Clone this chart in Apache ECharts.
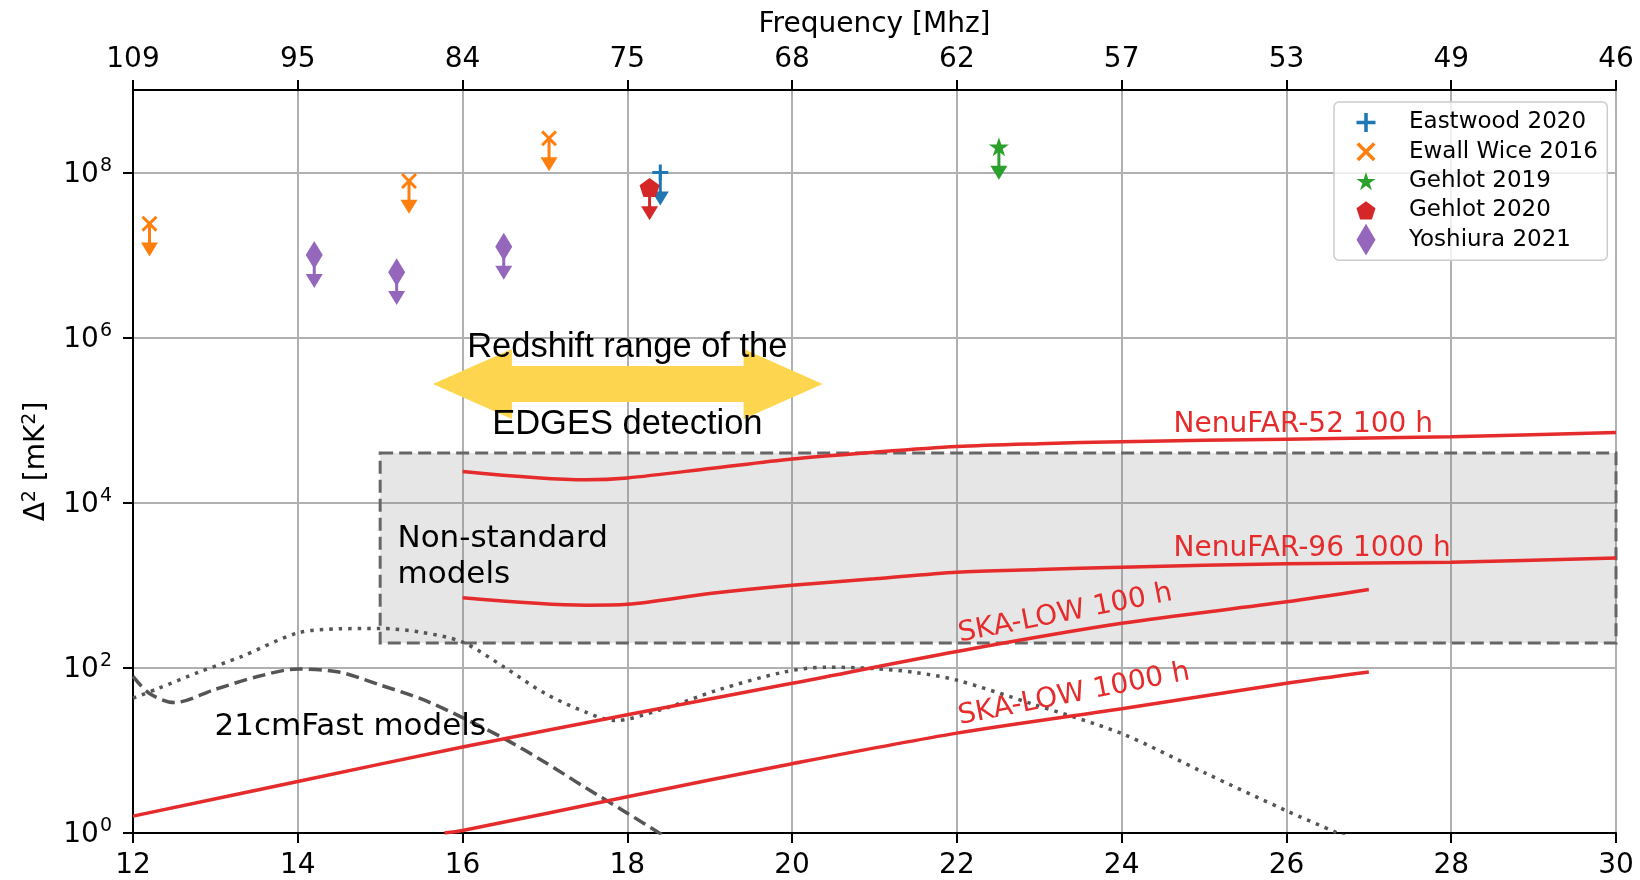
<!DOCTYPE html>
<html>
<head>
<meta charset="utf-8">
<script src="https://cdn.jsdelivr.net/npm/echarts@6/dist/echarts.min.js"></script>
<style>
  html, body { margin: 0; padding: 0; background: #ffffff; }
  #chart { width: 1640px; height: 880px; }
</style>
</head>
<body>
<div id="chart"></div>
<script>
// ---- Axis ticks -------------------------------------------------------
// Redshift ticks and the matching 21-cm observing frequency, 1420/(1+z) MHz
const redshiftTicks = [12, 14, 16, 18, 20, 22, 24, 26, 28, 30];
const freqLabels = ['109', '95', '84', '75', '68', '62', '57', '53', '49', '46'];
const powerTicks = [1, 1e2, 1e4, 1e6, 1e8];

// ---- Published upper limits on Δ² [mK²]: [z, value] --------------------
const eastwood2020 = [[18.40, 1.0e8]];
const ewallWice2016 = [[12.20, 2.4e7], [15.35, 7.9e7], [17.05, 2.6e8]];
const gehlot2019 = [[22.51, 2.05e8]];
const gehlot2020 = [[18.27, 6.6e7]];
const yoshiura2021 = [[14.20, 1.0e7], [15.20, 6.2e6], [16.50, 1.26e7]];

// ---- Instrument sensitivities: [z, Δ²] ----------------------------------
const nenufar52_100h = [[16, 2.4e4], [17.5, 1.9e4], [18, 2.0e4], [19, 2.6e4], [20, 3.4e4], [21, 4.1e4],
  [22, 4.8e4], [23, 5.2e4], [24, 5.5e4], [26, 5.9e4], [28, 6.3e4], [30, 7.1e4]];
const nenufar96_1000h = [[16, 708], [17.5, 575], [18, 589], [19, 794], [20, 1000], [21, 1200],
  [22, 1445], [23, 1550], [24, 1660], [26, 1820], [28, 1905], [30, 2140]];
const skaLow100h = [[12, 1.6], [14, 4.2], [16, 11], [18, 27], [20, 65], [22, 158], [24, 347], [26, 631], [27, 891]];
const skaLow1000h = [[15.78, 1.0], [16, 1.07], [18, 2.75], [20, 6.9], [22, 16.2], [24, 32], [26, 65], [27, 89]];

// ---- 21cmFast model power spectra: [z, Δ²] ------------------------------
const fastModelDashed = [[12.0, 79], [12.2, 49], [12.5, 38], [13.0, 55], [13.5, 78], [14.0, 97], [14.5, 89],
  [15.0, 62], [15.5, 42], [16.0, 25], [16.5, 14], [17.0, 7.2], [17.5, 3.5], [18.0, 1.74], [18.5, 0.85]];
const fastModelDotted = [[12.0, 43], [12.3, 56], [12.8, 89], [13.3, 135], [14.0, 265], [14.5, 297], [15.0, 300],
  [15.5, 270], [16.0, 205], [16.5, 103], [17.0, 49], [17.5, 29], [17.85, 23], [18.4, 31], [19.1, 54],
  [19.9, 89], [20.4, 102], [21.0, 98], [21.5, 88], [22.0, 71], [22.9, 37], [24.0, 16], [25.0, 5.4],
  [26.0, 1.86], [26.6, 1.02], [27.0, 0.68]];

// ---- Regions ------------------------------------------------------------
const nonStandardZ = [15, 30];
const nonStandardPower = [200, 4e4];
const edgesZ = [15.64, 20.37];
const edgesLevel = 2.75e5;

// Each upper limit arrow reaches down to this fraction of the limit
const LIMIT_DROP = 0.4;

// ---- Styling ------------------------------------------------------------
const FONT = "'DejaVu Sans', sans-serif";
const RED = '#e52b2b';
const GREY_LINE = '#555555';

const PLUS = 'path://M6.5,0H9.5V6.5H16V9.5H9.5V16H6.5V9.5H0V6.5H6.5Z';
const CROSS = 'path://M0,2.1L2.1,0L8,5.9L13.9,0L16,2.1L10.1,8L16,13.9L13.9,16L8,10.1L2.1,16L0,13.9L5.9,8Z';
const STAR = 'path://M0,-1L0.2245,-0.309L0.951,-0.309L0.3633,0.118L0.5878,0.809L0,0.382L-0.5878,0.809L-0.3633,0.118L-0.951,-0.309L-0.2245,-0.309Z';
const PENTAGON = 'path://M0,-1L0.951,-0.309L0.588,0.809L-0.588,0.809L-0.951,-0.309Z';
const THIN_DIAMOND = 'path://M0,-1L0.6,0L0,1L-0.6,0Z';

// Scatter marker for each limit set, plus its downward arrow
function limitSeries(name, data, color, symbol, size) {
  return [
    {
      name: name,
      type: 'scatter',
      data: data,
      symbol: symbol,
      symbolSize: size,
      itemStyle: { color: color, opacity: 1 },
      emphasis: { disabled: true },
      z: 6
    },
    {
      name: name + ' (limit)',
      type: 'custom',
      data: data,
      silent: true,
      z: 5,
      encode: { x: 0, y: 1 },
      renderItem: function (params, api) {
        const z = api.value(0);
        const v = api.value(1);
        const top = api.coord([z, v]);
        const tip = api.coord([z, v * LIMIT_DROP]);
        const hw = 8.5, hh = 14;
        return {
          type: 'group',
          children: [
            {
              type: 'line',
              shape: { x1: top[0], y1: top[1], x2: tip[0], y2: tip[1] - hh + 1 },
              style: { stroke: color, lineWidth: 3 }
            },
            {
              type: 'polygon',
              shape: { points: [[tip[0] - hw, tip[1] - hh], [tip[0] + hw, tip[1] - hh], [tip[0], tip[1]]] },
              style: { fill: color }
            }
          ]
        };
      }
    }
  ];
}

function curve(name, data, color, type, width, z) {
  return {
    name: name,
    type: 'line',
    data: data,
    showSymbol: false,
    smooth: 0.3,
    clip: true,
    silent: true,
    z: z,
    lineStyle: { color: color, width: width, type: type, cap: 'butt' }
  };
}

const chart = echarts.init(document.getElementById('chart'));

const axisBase = {
  type: 'value',
  min: 12,
  max: 30,
  interval: 2,
  axisLine: { show: true, onZero: false, lineStyle: { color: '#000', width: 2 } },
  axisTick: { show: true, inside: false, length: 10, lineStyle: { color: '#000', width: 2 } }
};

const option = {
  backgroundColor: '#ffffff',
  animation: false,
  grid: {
    left: 133, right: 24, top: 90, bottom: 47,
    show: true, borderColor: '#000', borderWidth: 2, backgroundColor: 'transparent'
  },
  xAxis: [
    Object.assign({}, axisBase, {
      position: 'bottom',
      axisLabel: { fontFamily: FONT, fontSize: 28, color: '#000', margin: 19 },
      splitLine: { show: true, lineStyle: { color: '#b0b0b0', width: 2 } }
    }),
    Object.assign({}, axisBase, {
      position: 'top',
      name: 'Frequency [Mhz]',
      nameLocation: 'middle',
      nameGap: 51,
      nameTextStyle: { fontFamily: FONT, fontSize: 28, color: '#000' },
      axisLabel: {
        fontFamily: FONT, fontSize: 28, color: '#000', margin: 16,
        formatter: function (v) {
          const i = redshiftTicks.indexOf(Math.round(v));
          return i >= 0 ? freqLabels[i] : '';
        }
      },
      splitLine: { show: false }
    })
  ],
  yAxis: {
    type: 'log',
    logBase: 10,
    min: 1,
    max: 1e9,
    interval: 2,
    name: 'Δ{s|2} [mK{s|2}]',
    nameLocation: 'middle',
    nameGap: 81,
    nameRotate: 90,
    nameTextStyle: {
      fontFamily: FONT, fontSize: 28, color: '#000',
      rich: {
        s: { fontFamily: FONT, fontSize: 19, color: '#000', verticalAlign: 'bottom', padding: [0, 0, 12, 0] }
      }
    },
    axisLine: { show: true, lineStyle: { color: '#000', width: 2 } },
    axisTick: { show: true, inside: false, length: 10, lineStyle: { color: '#000', width: 2 },
      customValues: powerTicks },
    axisLabel: {
      margin: 21,
      customValues: powerTicks,
      formatter: function (v) {
        return '{b|10}{s|' + Math.round(Math.log10(v)) + '}';
      },
      rich: {
        b: { fontFamily: FONT, fontSize: 28, color: '#000', verticalAlign: 'bottom' },
        s: { fontFamily: FONT, fontSize: 19, color: '#000', verticalAlign: 'bottom', padding: [0, 0, 13, 1] }
      }
    },
    splitLine: { show: true, lineStyle: { color: '#b0b0b0', width: 2 } },
    minorTick: { show: false },
    minorSplitLine: { show: false }
  },
  legend: {
    orient: 'vertical',
    left: 1334,
    top: 102,
    padding: [4.5, 9.5, 4.5, 22.5],
    itemWidth: 19,
    itemHeight: 32,
    itemGap: -2.7,
    backgroundColor: 'rgba(255,255,255,0.8)',
    borderColor: '#cccccc',
    borderWidth: 1.5,
    borderRadius: 5,
    selectedMode: false,
    textStyle: { fontFamily: FONT, fontSize: 23, lineHeight: 32, color: '#000', padding: [0, 0, 0, 28.5] },
    data: ['Eastwood 2020', 'Ewall Wice 2016', 'Gehlot 2019', 'Gehlot 2020', 'Yoshiura 2021']
  },
  series: [
    // Non-standard models region
    {
      name: 'Non-standard models',
      type: 'line',
      data: [],
      silent: true,
      z: 1,
      markArea: {
        silent: true,
        itemStyle: {
          color: 'rgba(128,128,128,0.2)',
          borderColor: '#666666',
          borderWidth: 3,
          borderType: [13, 6]
        },
        data: [[
          { coord: [nonStandardZ[0], nonStandardPower[1]] },
          { coord: [nonStandardZ[1], nonStandardPower[0]] }
        ]]
      }
    },
    curve('21cmFast dotted', fastModelDotted, GREY_LINE, [3.5, 6], 3.5, 2),
    curve('21cmFast dashed', fastModelDashed, GREY_LINE, [13, 6], 3.5, 2),
    curve('NenuFAR-52 100 h', nenufar52_100h, RED, 'solid', 3.5, 3),
    curve('NenuFAR-96 1000 h', nenufar96_1000h, RED, 'solid', 3.5, 3),
    curve('SKA-LOW 100 h', skaLow100h, RED, 'solid', 3.5, 3),
    curve('SKA-LOW 1000 h', skaLow1000h, RED, 'solid', 3.5, 3),
    // EDGES redshift range double arrow
    {
      name: 'EDGES range',
      type: 'custom',
      silent: true,
      z: 4,
      data: [[edgesZ[0], edgesZ[1], edgesLevel]],
      encode: { x: [0, 1], y: 2 },
      renderItem: function (params, api) {
        const l = api.coord([api.value(0), api.value(2)]);
        const r = api.coord([api.value(1), api.value(2)]);
        const y = l[1], head = 79, hh = 35, sh = 18;
        return {
          type: 'polygon',
          shape: {
            points: [
              [l[0], y], [l[0] + head, y - hh], [l[0] + head, y - sh], [r[0] - head, y - sh],
              [r[0] - head, y - hh], [r[0], y], [r[0] - head, y + hh], [r[0] - head, y + sh],
              [l[0] + head, y + sh], [l[0] + head, y + hh]
            ]
          },
          style: { fill: '#fed54e' }
        };
      }
    }
  ]
    .concat(limitSeries('Eastwood 2020', eastwood2020, '#1f77b4', PLUS, 16))
    .concat(limitSeries('Ewall Wice 2016', ewallWice2016, '#ff7f0e', CROSS, 16))
    .concat(limitSeries('Gehlot 2019', gehlot2019, '#2ca02c', STAR, [20, 19]))
    .concat(limitSeries('Gehlot 2020', gehlot2020, '#d62728', PENTAGON, [20, 19]))
    .concat(limitSeries('Yoshiura 2021', yoshiura2021, '#9467bd', THIN_DIAMOND, [17, 28]))
};

chart.setOption(option);

// Text annotations placed in data coordinates
const SANS = "'Liberation Sans', Arial, sans-serif";
const annotations = [
  { text: 'NenuFAR-52 100 h', at: [24.63, 8.9e4], color: RED, size: 28 },
  { text: 'NenuFAR-96 1000 h', at: [24.63, 2.75e3], color: RED, size: 28 },
  { text: 'SKA-LOW 100 h', at: [22.02, 255], color: RED, size: 28, rotate: 11 },
  { text: 'SKA-LOW 1000 h', at: [22.02, 25.5], color: RED, size: 28, rotate: 11 },
  { text: 'Non-standard\nmodels', at: [15.21, 2.2e3], color: '#000', size: 31, lineHeight: 36 },
  { text: '21cmFast models', at: [12.99, 19], color: '#000', size: 31 },
  { text: 'Redshift range of the', at: [18.0, 7.7e5], color: '#000', size: 34.5, align: 'center', family: SANS },
  { text: 'EDGES detection', at: [18.0, 8.9e4], color: '#000', size: 34.5, align: 'center', family: SANS }
];

chart.setOption({
  graphic: annotations.map(function (a) {
    const p = chart.convertToPixel({ xAxisIndex: 0, yAxisIndex: 0 }, a.at);
    return {
      type: 'text',
      x: p[0],
      y: p[1],
      rotation: (a.rotate || 0) * Math.PI / 180,
      z: 100,
      silent: true,
      style: {
        text: a.text,
        fill: a.color,
        fontFamily: a.family || FONT,
        fontSize: a.size,
        lineHeight: a.lineHeight || a.size * 1.2,
        align: a.align || 'left',
        verticalAlign: 'middle'
      }
    };
  })
});
</script>
</body>
</html>
